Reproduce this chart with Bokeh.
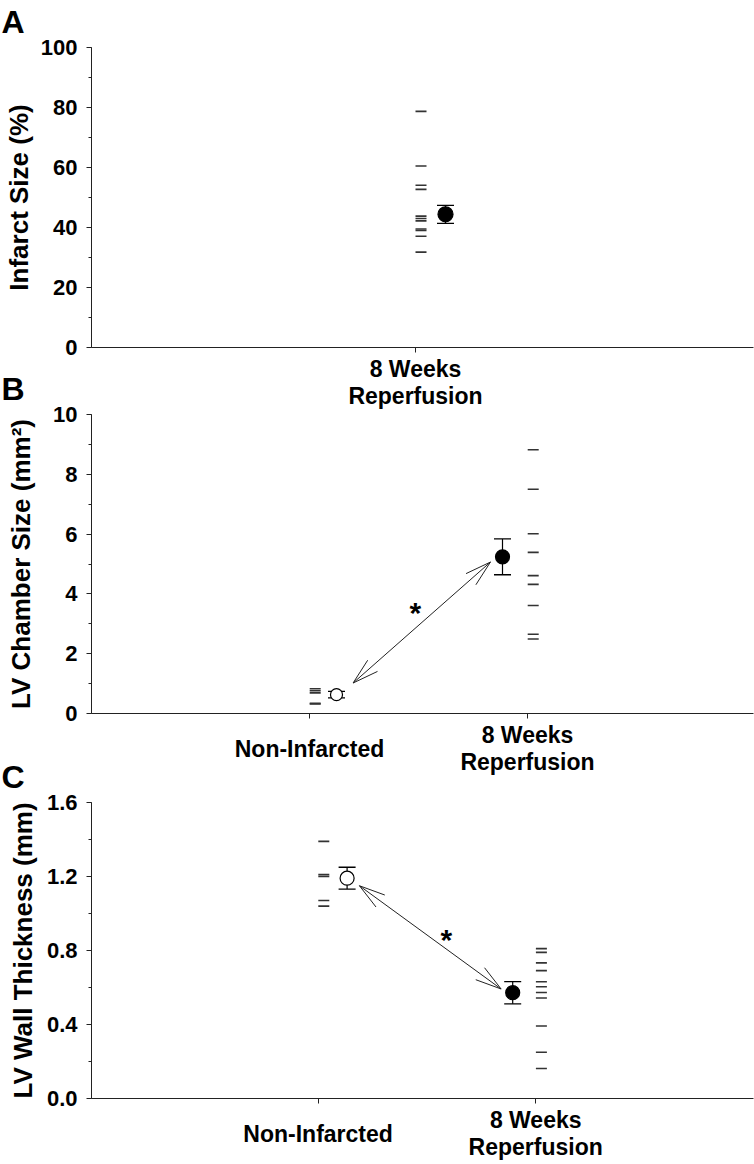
import math
import numpy as np
from bokeh.plotting import figure
from bokeh.layouts import column
from bokeh.models import FixedTicker, PrintfTickFormatter, Range1d, LinearAxis, Label
from bokeh.embed import file_html
from bokeh.resources import INLINE

# ---------------- data ----------------
rep_label = "8 Weeks\nReperfusion"
ni_label = "Non-Infarcted"

# Panel A: infarct size (%)
a_individual = [78.7, 60.5, 54.1, 52.7, 43.8, 43.0, 42.2, 39.5, 39.0, 37.1, 31.8]
a_mean = [44.4]
a_sem = [3.0]

# Panel B: LV chamber size (mm^2)
b_individual_ni = [0.83, 0.76, 0.69, 0.34, 0.32]
b_individual_rep = [8.82, 7.50, 6.01, 5.39, 4.61, 4.32, 3.61, 2.65, 2.49]
b_mean = [0.63, 5.24]
b_sem = [0.11, 0.60]

# Panel C: LV wall thickness (mm)
c_individual_ni = [1.39, 1.21, 1.20, 1.07, 1.04]
c_individual_rep = [0.81, 0.79, 0.733, 0.691, 0.631, 0.604, 0.573, 0.543, 0.392, 0.25, 0.162]
c_mean = [1.191, 0.572]
c_sem = [0.059, 0.060]

y_titles = ["Infarct Size (%)", "LV Chamber Size (mm\u00b2)", "LV Wall Thickness (mm)"]
panel_letters = ["A", "B", "C"]
significance = "*"

# ---------------- style / layout ----------------
FONT = "Liberation Sans"
INK = "#222222"
DASH_COLOR = "#333333"
W = 754
BL = 91          # common left border (frames are aligned in the column)
BT = 56          # top border (holds the panel letter)


def base_panel(frame_h, bb, xstart, xend, ymax, majors, minors, fmt, title, title_standoff,
               letter, margin_top):
    p = figure(width=W, height=BT + frame_h + bb, x_range=Range1d(xstart, xend),
               y_range=Range1d(0, ymax), output_backend="svg", toolbar_location=None,
               min_border_left=BL, min_border_right=1, min_border_top=BT, min_border_bottom=bb,
               margin=(margin_top, 0, 0, 0))
    p.outline_line_color = None
    p.grid.visible = False
    p.background_fill_color = None
    p.border_fill_color = None

    p.title.text = letter
    p.title.text_font = FONT
    p.title.text_font_style = "bold"
    p.title.text_font_size = "32px"
    p.title.text_color = "black"
    p.title.align = "left"
    p.title.offset = 2 - BL - 1
    p.title.standoff = 15

    ya = p.yaxis[0]
    ya.ticker = FixedTicker(ticks=majors, minor_ticks=minors)
    ya.formatter = PrintfTickFormatter(format=fmt)
    ya.axis_line_color = INK
    ya.major_tick_line_color = INK
    ya.minor_tick_line_color = INK
    ya.major_tick_out = 5
    ya.major_tick_in = 0
    ya.minor_tick_out = 3
    ya.minor_tick_in = 0
    ya.major_label_standoff = 9
    ya.major_label_text_font = FONT
    ya.major_label_text_font_style = "bold"
    ya.major_label_text_font_size = "22px"
    ya.major_label_text_color = "black"
    ya.axis_label = title
    ya.axis_label_text_font = FONT
    ya.axis_label_text_font_style = "bold"
    ya.axis_label_text_font_size = "26px"
    ya.axis_label_text_color = "black"
    ya.axis_label_standoff = title_standoff

    xa = p.xaxis[0]
    xa.axis_line_color = INK
    xa.major_tick_line_color = INK
    xa.minor_tick_line_color = None
    xa.major_tick_out = 5
    xa.major_tick_in = 0
    xa.major_label_standoff = 3
    xa.major_label_text_font = FONT
    xa.major_label_text_font_style = "bold"
    xa.major_label_text_font_size = "23px"
    xa.major_label_text_line_height = 1.06
    xa.major_label_text_color = "black"
    return p


def set_categories(p, labels):
    xa = p.xaxis[0]
    xa.ticker = FixedTicker(ticks=[1, 2][:len(labels)], minor_ticks=[])
    overrides = {}
    single = None
    for i, lab in enumerate(labels):
        if "\n" in lab:
            overrides[i + 1] = lab
        else:
            overrides[i + 1] = ""
            single = (i + 1, lab)
    xa.major_label_overrides = overrides
    if single is not None:
        # single-line label, vertically centred on the two-line label
        ax2 = LinearAxis(ticker=FixedTicker(ticks=[single[0]], minor_ticks=[]),
                         major_label_overrides={single[0]: single[1]},
                         axis_line_color=None, major_tick_line_color=None,
                         minor_tick_line_color=None, major_tick_out=0, major_tick_in=0,
                         major_label_standoff=-43, major_label_text_font=FONT,
                         major_label_text_font_style="bold", major_label_text_font_size="23px",
                         major_label_text_color="black")
        p.add_layout(ax2, "below")


def add_dashes(p, xcat, values, dx):
    p.scatter(x=np.full(len(values), xcat + dx), y=values, marker="dash", size=11,
              line_color=DASH_COLOR, line_width=1.6)


def add_mean(p, xm, m, s, filled, size):
    lo, hi = m - s, m + s
    p.segment(x0=[xm], y0=[lo], x1=[xm], y1=[hi], line_color="black", line_width=1.2)
    p.scatter(x=[xm, xm], y=[lo, hi], marker="dash", size=17, line_color="black", line_width=1.3)
    p.scatter(x=[xm], y=[m], marker="circle", size=size, line_color="black", line_width=1.2,
              fill_color="black" if filled else "white")


def add_arrow(p, x0, y0, x1, y1, sx, sy, L=27, ang=16):
    p.segment(x0=[x0], y0=[y0], x1=[x1], y1=[y1], line_color=INK, line_width=1)
    bx0, by0, bx1, by1 = [], [], [], []
    for tx, ty, ox, oy in [(x0, y0, x1, y1), (x1, y1, x0, y0)]:
        vx, vy = (ox - tx) * sx, (oy - ty) * sy
        n = math.hypot(vx, vy)
        ux, uy = vx / n, vy / n
        for sgn in (1, -1):
            a = math.radians(ang) * sgn
            rx = ux * math.cos(a) - uy * math.sin(a)
            ry = ux * math.sin(a) + uy * math.cos(a)
            bx0.append(tx); by0.append(ty)
            bx1.append(tx + L * rx / sx); by1.append(ty + L * ry / sy)
    p.segment(x0=bx0, y0=by0, x1=bx1, y1=by1, line_color=INK, line_width=1)


def star(p, x, y):
    p.add_layout(Label(x=x, y=y, text=significance, text_font=FONT, text_font_style="bold",
                       text_font_size="30px", text_align="center", text_baseline="middle",
                       text_color="black"))


FW = W - BL - 1   # frame width in px

# ---------------- Panel A ----------------
A_FH, A_BB, A_PX = 300, 66, 324.0
pA = base_panel(A_FH, A_BB, 0, FW / A_PX, 100, list(range(0, 101, 20)),
                list(range(0, 101, 10)), "%d", y_titles[0], 4, panel_letters[0], -9)
set_categories(pA, [rep_label])
add_dashes(pA, 1, a_individual, 5.5 / A_PX)
add_mean(pA, 1 + 30 / A_PX, a_mean[0], a_sem[0], True, 15)

# ---------------- Panel B ----------------
B_FH, B_BB, B_PX = 299, 66, 218.0
pB = base_panel(B_FH, B_BB, 0, FW / B_PX, 10, list(range(0, 11, 2)),
                list(range(0, 11, 1)), "%d", y_titles[1], 14, panel_letters[1], -55)
set_categories(pB, [ni_label, rep_label])
add_dashes(pB, 1, b_individual_ni, 5.7 / B_PX)
add_dashes(pB, 2, b_individual_rep, 5.7 / B_PX)
add_arrow(pB, 1.200, 1.02, 1.830, 5.065, B_PX, B_FH / 10.0)
add_mean(pB, 1 + 27 / B_PX, b_mean[0], b_sem[0], False, 12)
add_mean(pB, 2 - 25 / B_PX, b_mean[1], b_sem[1], True, 14)
star(pB, 1.486, 3.38)

# ---------------- Panel C ----------------
C_FH, C_BB, C_PX = 297, 64, 217.6
c_x0 = -9 / C_PX
pC = base_panel(C_FH, C_BB, c_x0, c_x0 + FW / C_PX, 1.6, [0, 0.4, 0.8, 1.2, 1.6],
                [0, 0.2, 0.4, 0.6, 0.8, 1.0, 1.2, 1.4, 1.6], "%.1f", y_titles[2], 6,
                panel_letters[2], -33)
set_categories(pC, [ni_label, rep_label])
add_dashes(pC, 1, c_individual_ni, 5.7 / C_PX)
add_dashes(pC, 2, c_individual_rep, 5.7 / C_PX)
add_arrow(pC, 1.190, 1.150, 1.841, 0.592, C_PX, C_FH / 1.6)
add_mean(pC, 1 + 29 / C_PX, c_mean[0], c_sem[0], False, 14)
add_mean(pC, 2 - 23 / C_PX, c_mean[1], c_sem[1], True, 14)
star(pC, 1.589, 0.86)

layout = column(pA, pB, pC, spacing=0)
open("out.html", "w").write(file_html(layout, INLINE))
